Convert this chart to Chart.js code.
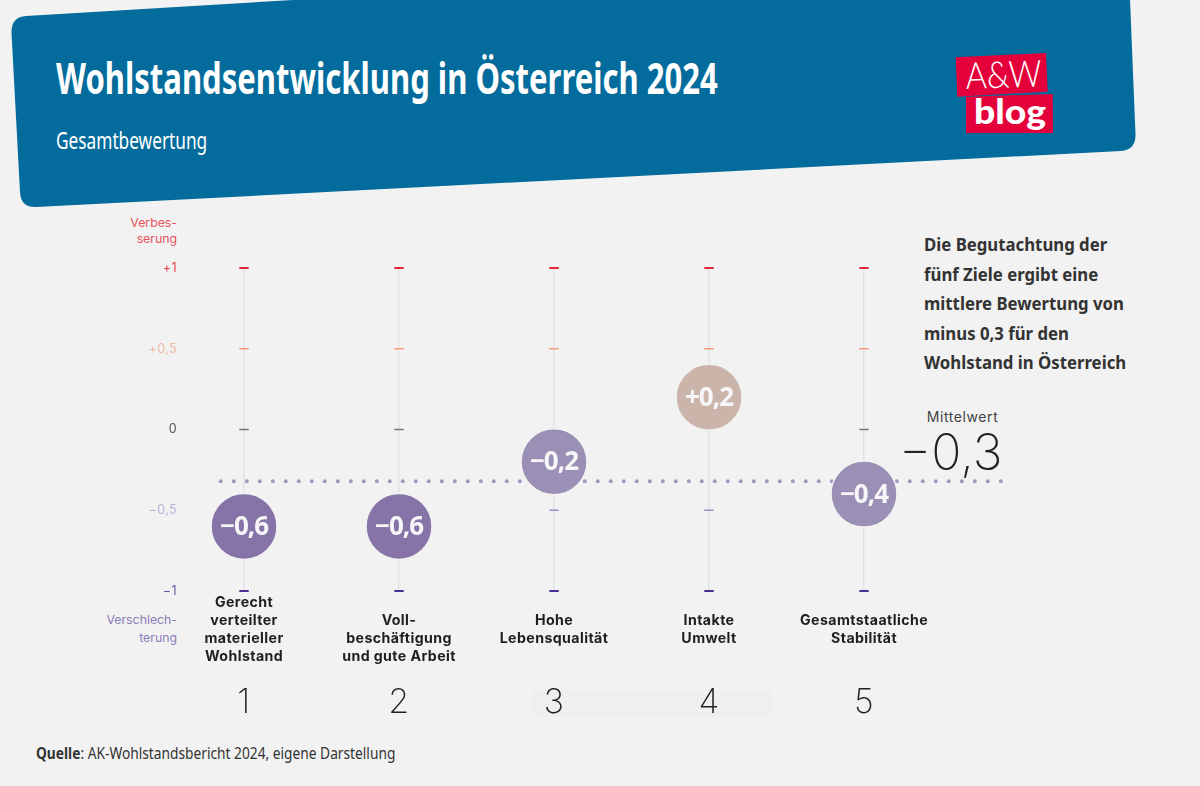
<!DOCTYPE html>
<html lang="de">
<head>
<meta charset="utf-8">
<title>Wohlstandsentwicklung in Österreich 2024</title>
<script src="https://cdn.jsdelivr.net/npm/chart.js@4/dist/chart.umd.min.js"></script>
<style>
  html, body { margin: 0; padding: 0; background: #f2f2f2; }
  #page { position: relative; width: 1200px; height: 786px; overflow: hidden; background: #f2f2f2; }
  #page canvas { position: absolute; left: 0; top: 0; }
  #banner { position: absolute; left: 0; top: 0; }
  .narrow { font-family: "Noto Sans", sans-serif; }
  .txt { position: absolute; white-space: nowrap; transform-origin: left top; }
  #title { left: 56px; top: 50px; font-size: 43px; line-height: 56px; font-weight: 700; color: #fff; }
  #subtitle { left: 56px; top: 124px; font-size: 24px; line-height: 32px; color: #fff; }
  #note { left: 924px; top: 230px; font-family: "Noto Sans", sans-serif; font-size: 18px; line-height: 29.5px; font-weight: 700; color: #333; }
  #source { left: 36px; top: 742px; font-size: 16.5px; line-height: 22px; color: #333; }
  .cap { font-family: Inter, sans-serif; font-size: 12.3px; line-height: 15.5px; text-align: right; width: 110px; left: 67px; }
  #capUp { top: 215px; color: #e9525f; }
  #capDown { top: 611px; line-height: 18px; color: #8a7cb8; }
  #meanLabel { left: 900px; width: 125px; text-align: center; top: 408px; font-family: Inter, sans-serif; font-size: 14px; letter-spacing: 0.6px; color: #444; }
  #meanValue { left: 899px; top: 422px; font-family: Inter, sans-serif; font-weight: 200; font-size: 50px; line-height: 60px; color: #222; }
  #smudge { position: absolute; left: 532px; top: 690px; width: 240px; height: 26px; background: #f0eeef; }
</style>
</head>
<body>
<div id="page">
  <svg id="banner" width="1200" height="786" xmlns="http://www.w3.org/2000/svg">
    <path d="M26 16 L1128 -50 L1135.5 134 Q1136 150 1121 151 L36 207 Q21 208 20 192 L11.5 33 Q11 17 26 16 Z" fill="#046c9c"/>
    <polygon points="955.7,57.3 1046,53 1047.7,91.7 957.3,96.7" fill="#e4003a"/>
    <polygon points="966,96.7 1052.7,94 1053,133 966,133" fill="#e4003a"/>
    <text x="966" y="89" font-family="Lato, sans-serif" font-weight="300" font-size="37" fill="#fff" transform="rotate(-2 966 89)" textLength="76" lengthAdjust="spacingAndGlyphs">A&amp;W</text>
    <text x="974" y="124" font-family="Lato, sans-serif" font-weight="900" font-size="35" fill="#fff" textLength="72" lengthAdjust="spacingAndGlyphs">blog</text>
  </svg>
  <div id="smudge"></div>
  <div id="title" class="txt narrow">Wohlstandsentwicklung in Österreich 2024</div>
  <div id="subtitle" class="txt narrow">Gesamtbewertung</div>
  <div id="note" class="txt">Die Begutachtung der<br>fünf Ziele ergibt eine<br>mittlere Bewertung von<br>minus 0,3 für den<br>Wohlstand in Österreich</div>
  <div id="capUp" class="txt cap">Verbes-<br>serung</div>
  <div id="capDown" class="txt cap">Verschlech-<br>terung</div>
  <div id="meanLabel" class="txt">Mittelwert</div>
  <div id="meanValue" class="txt">−0,3</div>
  <div id="source" class="txt narrow"><b>Quelle</b>: AK-Wohlstandsbericht 2024, eigene Darstellung</div>
  <canvas id="chart" width="1200" height="786"></canvas>
</div>
<script>
const goalNumbers = [1, 2, 3, 4, 5];
const goalLabels = [
  ["Gerecht", "verteilter", "materieller", "Wohlstand"],
  ["", "Voll-", "beschäftigung", "und gute Arbeit"],
  ["", "Hohe", "Lebensqualität"],
  ["", "Intakte", "Umwelt"],
  ["", "Gesamtstaatliche", "Stabilität"]
];
const goalValues = [-0.6, -0.6, -0.2, 0.2, -0.4];
const bubbleColors = ["#8673a8", "#8673a8", "#9a8fb4", "#cbb5aa", "#9a8fb4"];

const meanValue = -0.32;
const meanStart = 0.85;
const meanEnd = 5.885;

const levels = [-1, -0.5, 0, 0.5, 1];
const levelLabels = ["−1", "−0,5", "0", "+0,5", "+1"];
const levelTextColors = ["#6a57a3", "#b9b1d6", "#555555", "#f0b9a2", "#e8434f"];
const levelDashColors = ["#4a2f92", "#9d8fcb", "#777777", "#f49a7b", "#e3273a"];
const levelDashWidths = [2, 1.5, 1.5, 1.5, 2];

const formatValue = (v) => (v > 0 ? "+" : "−") + Math.abs(v).toFixed(1).replace(".", ",");

// the original typeface is narrower, squeeze to the measured widths
const fitWidth = (id, width) => {
  const el = document.getElementById(id);
  el.style.transform = `scaleX(${width / el.offsetWidth})`;
};
fitWidth("title", 662);
fitWidth("subtitle", 151);
fitWidth("note", 202);
fitWidth("source", 359);

const dashDatasets = levels.map((level, i) => ({
  data: goalNumbers.map((n) => ({ x: n, y: level })),
  pointStyle: "line",
  pointRadius: 4.7,
  pointBorderColor: levelDashColors[i],
  pointBorderWidth: levelDashWidths[i],
  clip: false,
  order: 3
}));

const wideText = {
  id: "wideText",
  beforeDraw(chart) {
    chart.ctx.letterSpacing = "0.4px";
  }
};

// value text goes on top of the bubbles
const bubbleText = {
  id: "bubbleText",
  afterDatasetsDraw(chart) {
    const meta = chart.getDatasetMeta(chart.data.datasets.length - 1);
    const c = chart.ctx;
    c.save();
    c.letterSpacing = "-1px";
    c.fillStyle = "#f7f6f8";
    c.font = "700 26px 'Open Sans', sans-serif";
    c.textAlign = "center";
    c.textBaseline = "middle";
    meta.data.forEach((pt, i) => c.fillText(formatValue(goalValues[i]), pt.x, pt.y + 1));
    c.restore();
  }
};

const fixedTicks = (scale) => {
  scale.ticks = goalNumbers.map((n) => ({ value: n }));
};

new Chart(document.getElementById("chart"), {
  type: "scatter",
  data: {
    datasets: [
      ...dashDatasets,
      {
        data: [{ x: meanStart, y: meanValue }, { x: meanEnd, y: meanValue }],
        showLine: true,
        pointRadius: 0,
        borderColor: "#a296be",
        borderWidth: 4,
        borderCapStyle: "round",
        borderDash: [0, 13],
        clip: false,
        order: 2
      },
      {
        data: goalNumbers.map((n, i) => ({ x: n, y: goalValues[i] })),
        pointRadius: 33,
        pointBackgroundColor: bubbleColors,
        pointBorderColor: "#f2f2f2",
        pointBorderWidth: 1.5,
        clip: false,
        order: 1
      }
    ]
  },
  options: {
    responsive: false,
    animation: false,
    layout: { padding: { top: 268, right: 181, bottom: 0, left: 0 } },
    plugins: { legend: { display: false }, tooltip: { enabled: false } },
    scales: {
      x: {
        type: "linear",
        position: "bottom",
        min: 0.645,
        max: 6,
        afterBuildTicks: fixedTicks,
        afterFit: (scale) => { scale.height = 85; },
        border: { display: false },
        grid: { color: "#e3e3e3", lineWidth: 1.5, drawTicks: false },
        ticks: {
          autoSkip: false,
          maxRotation: 0,
          minRotation: 0,
          padding: 3,
          color: "#1f1f1f",
          font: { family: "Inter, sans-serif", size: 14.2, weight: "650", lineHeight: 1.27 },
          callback: (v) => goalLabels[goalNumbers.indexOf(v)]
        }
      },
      xNum: {
        type: "linear",
        position: "bottom",
        min: 0.645,
        max: 6,
        afterBuildTicks: fixedTicks,
        afterFit: (scale) => { scale.height = 110; },
        border: { display: false },
        grid: { display: false, drawTicks: false },
        ticks: {
          autoSkip: false,
          maxRotation: 0,
          minRotation: 0,
          padding: 6,
          color: "#222222",
          font: { family: "Inter, sans-serif", size: 34, weight: "200" },
          callback: (v) => String(v)
        }
      },
      y: {
        min: -1,
        max: 1,
        afterFit: (scale) => { scale.width = 189; },
        border: { display: false },
        grid: { display: false, drawTicks: false },
        ticks: {
          stepSize: 0.5,
          padding: 12,
          color: (ctx) => levelTextColors[ctx.index],
          font: { family: "Inter, sans-serif", size: 12.5 },
          callback: (v) => levelLabels[levels.indexOf(v)]
        }
      }
    }
  },
  plugins: [wideText, bubbleText]
});
</script>
</body>
</html>
